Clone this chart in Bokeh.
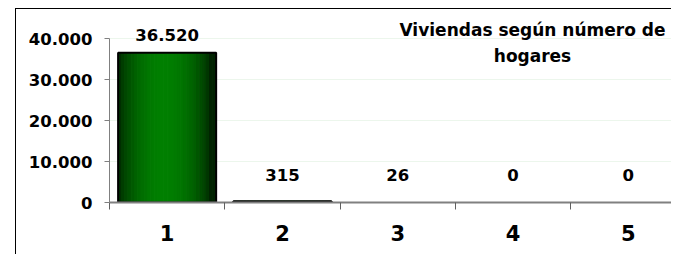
import numpy as np
from bokeh.plotting import figure
from bokeh.models import Range1d, FixedTicker, ColumnDataSource, Label
from bokeh.core.properties import value
from bokeh.embed import file_html
from bokeh.resources import INLINE

# ---- data ----
categories = [1, 2, 3, 4, 5]
cat_labels = ["1", "2", "3", "4", "5"]
viviendas = [36520, 315, 26, 0, 0]
value_labels = ["36.520", "315", "26", "0", "0"]
y_ticks = [0, 10000, 20000, 30000, 40000]
y_tick_labels = ["0", "10.000", "20.000", "30.000", "40.000"]
title_lines = ["Viviendas según número de", "hogares"]

FONT = "DejaVu Sans"
FS = "16.5px"
TFS = "17px"
YMAX = 40000
Y_END = YMAX * 193 / 164
PX = YMAX / 164          # data units per pixel
BAR_W = 0.85
W, H = 656, 246
LEFT = 93
CAT_PX = 115.3

p = figure(width=W, height=H,
           x_range=Range1d(0.5, 0.5 + (W - LEFT) / CAT_PX),
           y_range=Range1d(0, Y_END),
           output_backend="svg", toolbar_location=None,
           min_border_left=LEFT, min_border_right=0,
           min_border_top=0, min_border_bottom=H - 193)
p.styles = {"margin-left": "15px", "margin-top": "8px",
            "border-top": "1px solid black",
            "border-left": "1px solid black"}
p.outline_line_color = None
p.background_fill_color = "white"
p.border_fill_color = "white"

# gradient bars: vertical strips
cats = np.array(categories, dtype=float)
vals = np.array(viviendas, dtype=float)
visible = vals / YMAX > 0.005
N = 30
xs, ws, tops, cols = [], [], [], []
for c, v in zip(cats[visible], vals[visible]):
    for k in range(N):
        t = (k + 0.5) / N
        s = np.sin(np.pi * min(1.0, t / 0.95)) ** 0.7
        g = int(35 + (128 - 35) * s)
        xs.append(c - BAR_W / 2 + t * BAR_W)
        ws.append(BAR_W / N)
        tops.append(v)
        cols.append("#00%02x00" % g)
p.vbar(x=xs, width=ws, top=tops, bottom=0, fill_color=cols, line_color=cols,
       line_width=1)
p.vbar(x=cats[visible], width=BAR_W, top=vals[visible], bottom=0,
       fill_color=None, line_color="black", line_width=2)

# value labels
label_y = np.maximum(vals, 10 * PX) + 18 * PX
src = ColumnDataSource(dict(x=cats, y=label_y, t=value_labels))
p.text(x="x", y="y", text="t", source=src, text_align="center",
       text_baseline="alphabetic", text_font=value(FONT),
       text_font_style="bold", text_font_size=FS, text_color="black")

# title inside plot
tx = 0.5 + (532 - 109) / CAT_PX
for line, ty in zip(title_lines, [YMAX + 9 * PX, YMAX - 17 * PX]):
    p.add_layout(Label(x=tx, y=ty, text=line, text_align="center",
                       text_baseline="alphabetic", text_font=FONT,
                       text_font_style="bold", text_font_size=TFS,
                       text_color="black"))

# y axis
yax = p.yaxis[0]
yax.ticker = FixedTicker(ticks=y_ticks)
yax.major_label_overrides = {t: l for t, l in zip(y_ticks, y_tick_labels)}
yax.bounds = (0, YMAX)
yax.axis_line_color = "#808080"
yax.major_tick_line_color = "#808080"
yax.major_tick_out = 5
yax.major_tick_in = 0
yax.minor_tick_line_color = None
yax.major_label_standoff = 12
yax.major_label_text_font = FONT
yax.major_label_text_font_style = "bold"
yax.major_label_text_font_size = FS
yax.major_label_text_color = "black"

# x axis
xax = p.xaxis[0]
bounds = [c - 0.5 for c in categories] + [categories[-1] + 0.5]
xax.ticker = FixedTicker(ticks=categories, minor_ticks=bounds)
xax.major_label_overrides = {c: l for c, l in zip(categories, cat_labels)}
xax.axis_line_color = "#808080"
xax.axis_line_width = 2
xax.major_tick_line_color = None
xax.major_tick_out = 0
xax.major_tick_in = 0
xax.minor_tick_line_color = "#606060"
xax.minor_tick_out = 7
xax.minor_tick_in = 0
xax.major_label_standoff = 15
xax.major_label_text_font = FONT
xax.major_label_text_font_style = "bold"
xax.major_label_text_font_size = "21px"
xax.major_label_text_color = "black"

p.xgrid.grid_line_color = None
p.ygrid.ticker = FixedTicker(ticks=y_ticks)
p.ygrid.grid_line_color = "#ecf6ec"

open("out.html", "w").write(file_html(p, INLINE))
